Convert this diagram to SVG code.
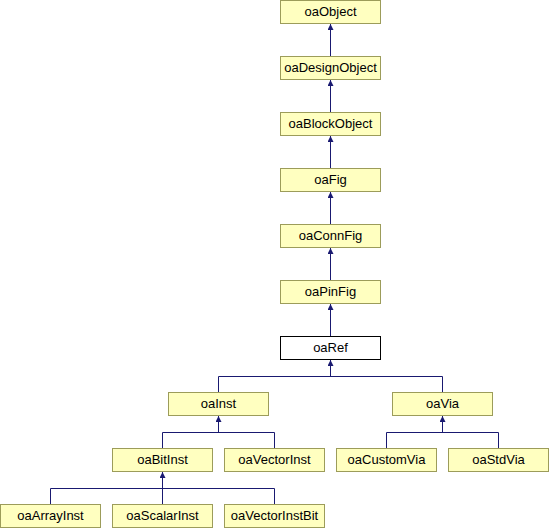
<svg xmlns="http://www.w3.org/2000/svg" width="550" height="528" viewBox="0 0 550 528">
<style>
.n rect{fill:#ffffc0;stroke:#9c9c5a;stroke-width:1}
.n.cur rect{fill:#ffffff;stroke:#000000}
.n text{font-family:"Liberation Sans",Arial,sans-serif;font-size:13px;fill:#000;text-anchor:middle}
#edges path{fill:none;stroke:#191970;stroke-width:1}
</style>
<defs>
<marker id="ah" viewBox="0 0 10 10" refX="10" refY="5" markerUnits="userSpaceOnUse" markerWidth="7" markerHeight="6" orient="auto">
<path d="M0,0 L10,5 L0,10 z" fill="#191970" stroke="none"/>
</marker>
</defs>
<rect width="550" height="528" fill="#ffffff"/>
<g id="edges">
<path d="M330.5,56.5 V24" marker-end="url(#ah)"/>
<path d="M330.5,112.5 V80" marker-end="url(#ah)"/>
<path d="M330.5,168.5 V136" marker-end="url(#ah)"/>
<path d="M330.5,224.5 V192" marker-end="url(#ah)"/>
<path d="M330.5,280.5 V248" marker-end="url(#ah)"/>
<path d="M330.5,336.5 V304" marker-end="url(#ah)"/>
<path d="M218.5,392.5 V376.5 H442.5 V392.5"/>
<path d="M330.5,376.5 V360" marker-end="url(#ah)"/>
<path d="M162.5,448.5 V432.5 H274.5 V448.5"/>
<path d="M218.5,432.5 V416" marker-end="url(#ah)"/>
<path d="M386.5,448.5 V432.5 H498.5 V448.5"/>
<path d="M442.5,432.5 V416" marker-end="url(#ah)"/>
<path d="M50.5,504.5 V488.5 H274.5 V504.5"/>
<path d="M162.5,504.5 V472" marker-end="url(#ah)"/>
</g>
<g id="oaObject" class="n"><rect x="280.5" y="0.5" width="100" height="23"/><text x="330.5" y="16">oaObject</text></g>
<g id="oaDesignObject" class="n"><rect x="280.5" y="56.5" width="100" height="23"/><text x="330.5" y="72">oaDesignObject</text></g>
<g id="oaBlockObject" class="n"><rect x="280.5" y="112.5" width="100" height="23"/><text x="330.5" y="128">oaBlockObject</text></g>
<g id="oaFig" class="n"><rect x="280.5" y="168.5" width="100" height="23"/><text x="330.5" y="184">oaFig</text></g>
<g id="oaConnFig" class="n"><rect x="280.5" y="224.5" width="100" height="23"/><text x="330.5" y="240">oaConnFig</text></g>
<g id="oaPinFig" class="n"><rect x="280.5" y="280.5" width="100" height="23"/><text x="330.5" y="296">oaPinFig</text></g>
<g id="oaRef" class="n cur"><rect x="280.5" y="336.5" width="100" height="23"/><text x="330.5" y="352">oaRef</text></g>
<g id="oaInst" class="n"><rect x="168.5" y="392.5" width="100" height="23"/><text x="218.5" y="408">oaInst</text></g>
<g id="oaVia" class="n"><rect x="392.5" y="392.5" width="100" height="23"/><text x="442.5" y="408">oaVia</text></g>
<g id="oaBitInst" class="n"><rect x="112.5" y="448.5" width="100" height="23"/><text x="162.5" y="464">oaBitInst</text></g>
<g id="oaVectorInst" class="n"><rect x="224.5" y="448.5" width="100" height="23"/><text x="274.5" y="464">oaVectorInst</text></g>
<g id="oaCustomVia" class="n"><rect x="336.5" y="448.5" width="100" height="23"/><text x="386.5" y="464">oaCustomVia</text></g>
<g id="oaStdVia" class="n"><rect x="448.5" y="448.5" width="100" height="23"/><text x="498.5" y="464">oaStdVia</text></g>
<g id="oaArrayInst" class="n"><rect x="0.5" y="504.5" width="100" height="23"/><text x="50.5" y="520">oaArrayInst</text></g>
<g id="oaScalarInst" class="n"><rect x="112.5" y="504.5" width="100" height="23"/><text x="162.5" y="520">oaScalarInst</text></g>
<g id="oaVectorInstBit" class="n"><rect x="224.5" y="504.5" width="100" height="23"/><text x="274.5" y="520">oaVectorInstBit</text></g>
</svg>
